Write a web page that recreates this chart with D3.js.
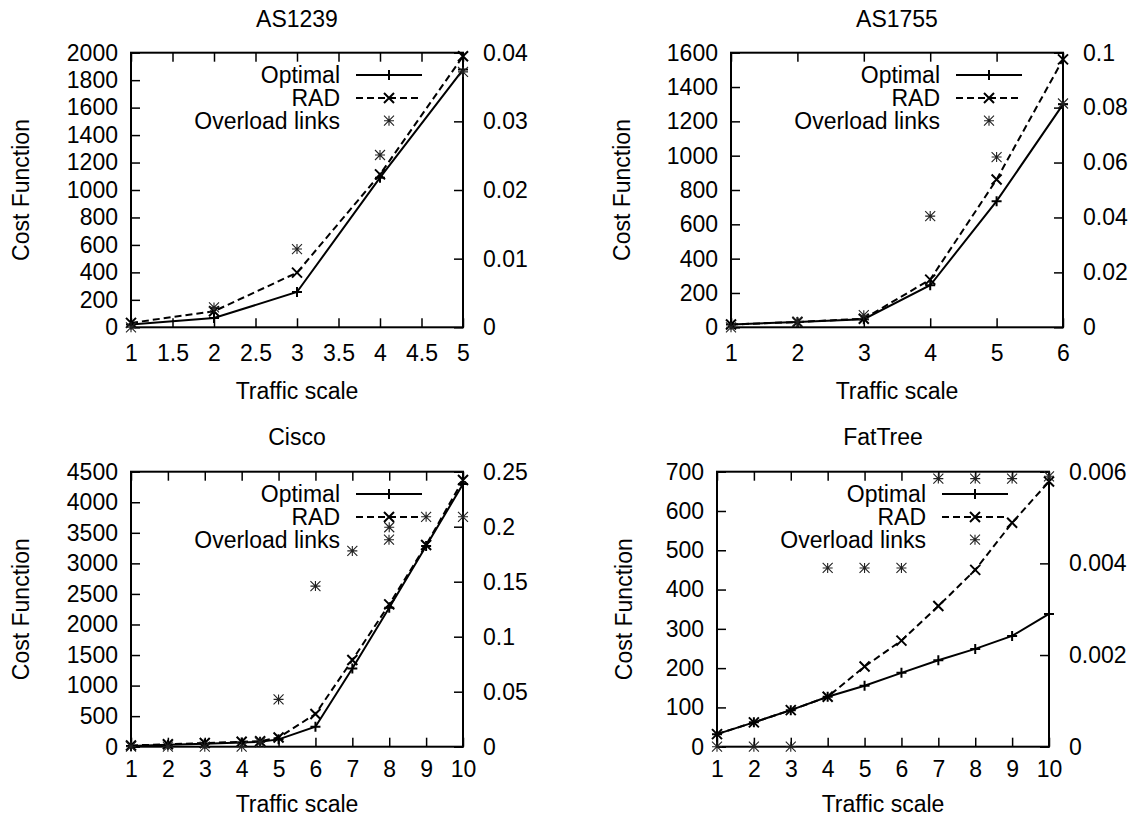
<!DOCTYPE html>
<html><head><meta charset="utf-8">
<script src="https://cdn.jsdelivr.net/npm/d3@7"></script>
<style>
body{margin:0;background:#fff}
text{font-family:"Liberation Sans",Arial,Helvetica,sans-serif;font-size:23px;fill:#000}
</style>
</head><body>
<svg id="c" width="1132" height="818"></svg>
<script>
// ---------- Data ----------
const titles = ["AS1239", "AS1755", "Cisco", "FatTree"];
const legendLabels = ["Optimal", "RAD", "Overload links"];
const xLabel = "Traffic scale";
const yLabel = "Cost Function";

const as1239X = [1, 2, 3, 4, 5];
const as1239Optimal = [20, 68, 257, 1090, 1877];
const as1239RAD = [32, 117, 398, 1114, 1974];
const as1239Overload = [0, 0.0029, 0.0114, 0.0251, 0.0372];
const as1239XTicks = [1, 1.5, 2, 2.5, 3, 3.5, 4, 4.5, 5];
const as1239YTicks = [0, 200, 400, 600, 800, 1000, 1200, 1400, 1600, 1800, 2000];
const as1239Y2Ticks = [0, 0.01, 0.02, 0.03, 0.04];

const as1755X = [1, 2, 3, 4, 5, 6];
const as1755Optimal = [16, 31, 47, 245, 735, 1299];
const as1755RAD = [16, 31, 50, 278, 861, 1561];
const as1755Overload = [0, 0.002, 0.0044, 0.0405, 0.062, 0.0815];
const as1755XTicks = [1, 2, 3, 4, 5, 6];
const as1755YTicks = [0, 200, 400, 600, 800, 1000, 1200, 1400, 1600];
const as1755Y2Ticks = [0, 0.02, 0.04, 0.06, 0.08, 0.1];

const ciscoX = [1, 2, 3, 4, 4.5, 5, 6, 7, 8, 9, 10];
const ciscoOptimal = [10, 30, 50, 70, 80, 120, 327, 1280, 2275, 3284, 4298];
const ciscoRAD = [20, 40, 60, 80, 90, 150, 535, 1418, 2329, 3300, 4364];
const ciscoOverload = [0, 0, 0, 0, 0.004, 0.043, 0.146, 0.178, 0.1995, 0.209, 0.209];
const ciscoXTicks = [1, 2, 3, 4, 5, 6, 7, 8, 9, 10];
const ciscoYTicks = [0, 500, 1000, 1500, 2000, 2500, 3000, 3500, 4000, 4500];
const ciscoY2Ticks = [0, 0.05, 0.1, 0.15, 0.2, 0.25];

const fatTreeX = [1, 2, 3, 4, 5, 6, 7, 8, 9, 10];
const fatTreeOptimal = [32, 62, 93, 127, 155, 188, 220, 249, 282, 338];
const fatTreeRAD = [32, 62, 93, 127, 204, 270, 358, 450, 570, 675];
const fatTreeOverload = [0, 0, 0, 0.0039, 0.0039, 0.0039, 0.00585, 0.00585, 0.00585, 0.0059];
const fatTreeXTicks = [1, 2, 3, 4, 5, 6, 7, 8, 9, 10];
const fatTreeYTicks = [0, 100, 200, 300, 400, 500, 600, 700];
const fatTreeY2Ticks = [0, 0.002, 0.004, 0.006];

// ---------- Layout ----------
const panels = [
  {title: titles[0], x: as1239X, opt: as1239Optimal, rad: as1239RAD, ovl: as1239Overload,
   xt: as1239XTicks, yt: as1239YTicks, y2t: as1239Y2Ticks,
   left: 131, top: 52.7, w: 332, h: 274.6, titleY: 27, xtY: 34, xlY: 399, ylX: 29},
  {title: titles[1], x: as1755X, opt: as1755Optimal, rad: as1755RAD, ovl: as1755Overload,
   xt: as1755XTicks, yt: as1755YTicks, y2t: as1755Y2Ticks,
   left: 731, top: 52.7, w: 332, h: 274.6, titleY: 27, xtY: 34, xlY: 399, ylX: 630},
  {title: titles[2], x: ciscoX, opt: ciscoOptimal, rad: ciscoRAD, ovl: ciscoOverload,
   xt: ciscoXTicks, yt: ciscoYTicks, y2t: ciscoY2Ticks,
   left: 131, top: 471.7, w: 332, h: 275, titleY: 445, xtY: 30.5, xlY: 812, ylX: 29},
  {title: titles[3], x: fatTreeX, opt: fatTreeOptimal, rad: fatTreeRAD, ovl: fatTreeOverload,
   xt: fatTreeXTicks, yt: fatTreeYTicks, y2t: fatTreeY2Ticks,
   left: 717, top: 471.7, w: 332, h: 275, titleY: 445, xtY: 30.5, xlY: 812, ylX: 632}
];

const svg = d3.select("#c");
svg.append("rect").attr("width", 1132).attr("height", 818).attr("fill", "#fff");

const fmt = v => String(+v.toFixed(6));
const M = 5; // marker half size

function plusPath(x, y) { return `M${x-M},${y}H${x+M}M${x},${y-M}V${y+M}`; }
function crossPath(x, y) { return `M${x-M},${y-M}L${x+M},${y+M}M${x-M},${y+M}L${x+M},${y-M}`; }
function starPath(x, y) { return plusPath(x, y) + crossPath(x, y); }

panels.forEach(p => {
  const g = svg.append("g").attr("transform", `translate(${p.left},${p.top})`);
  const xs = d3.scaleLinear().domain(d3.extent(p.xt)).range([0, p.w]);
  const ys = d3.scaleLinear().domain(d3.extent(p.yt)).range([p.h, 0]);
  const y2s = d3.scaleLinear().domain(d3.extent(p.y2t)).range([p.h, 0]);

  // Axes (ticks inward)
  const ax = g.append("g").attr("transform", `translate(0,${p.h})`)
    .call(d3.axisBottom(xs).tickValues(p.xt).tickFormat(fmt).tickSize(-9).tickPadding(0));
  ax.selectAll("text").attr("dy", null).attr("y", p.xtY);
  g.append("g").call(d3.axisTop(xs).tickValues(p.xt).tickFormat("").tickSize(-9));
  g.append("g").call(d3.axisLeft(ys).tickValues(p.yt).tickFormat(fmt).tickSize(-9).tickPadding(13));
  g.append("g").attr("transform", `translate(${p.w},0)`)
    .call(d3.axisRight(y2s).tickValues(p.y2t).tickFormat(fmt).tickSize(-9).tickPadding(20));
  g.selectAll(".domain").remove();
  g.selectAll(".tick line").attr("stroke", "#000").attr("stroke-width", 1.5);
  g.selectAll(".tick text").attr("font-size", null).attr("font-family", null).attr("fill", "#000");
  g.selectAll(".tick text").style("font-size", "23px");

  // Frame
  g.append("rect").attr("width", p.w).attr("height", p.h)
    .attr("fill", "none").attr("stroke", "#000").attr("stroke-width", 2);

  // Title and labels
  svg.append("text").attr("x", p.left + p.w / 2).attr("y", p.titleY)
    .attr("text-anchor", "middle").text(p.title);
  svg.append("text").attr("x", p.left + p.w / 2).attr("y", p.xlY)
    .attr("text-anchor", "middle").text(xLabel);
  svg.append("text").attr("transform", `translate(${p.ylX},${p.top + p.h / 2}) rotate(-90)`)
    .attr("text-anchor", "middle").text(yLabel);

  // Lines
  const idx = d3.range(p.x.length);
  const line = arr => d3.line().x(i => xs(p.x[i])).y(i => ys(arr[i]))(idx);
  g.append("path").attr("d", line(p.opt)).attr("fill", "none")
    .attr("stroke", "#000").attr("stroke-width", 2);
  g.append("path").attr("d", line(p.rad)).attr("fill", "none")
    .attr("stroke", "#000").attr("stroke-width", 2).attr("stroke-dasharray", "7,4");

  // Markers
  g.append("path").attr("d", idx.map(i => plusPath(xs(p.x[i]), ys(p.opt[i]))).join(""))
    .attr("stroke", "#000").attr("stroke-width", 2).attr("fill", "none");
  g.append("path").attr("d", idx.map(i => crossPath(xs(p.x[i]), ys(p.rad[i]))).join(""))
    .attr("stroke", "#000").attr("stroke-width", 2).attr("fill", "none");
  g.append("path").attr("d", idx.map(i => starPath(xs(p.x[i]), y2s(p.ovl[i]))).join(""))
    .attr("stroke", "#222").attr("stroke-width", 1.1).attr("fill", "none");

  // Legend
  const lg = g.append("g");
  const rows = [22.3, 45.3, 68];
  const tx = p.w - 123, l0 = p.w - 107, l1 = p.w - 41, mx = p.w - 74;
  rows.forEach((ry, k) => {
    lg.append("text").attr("x", tx).attr("y", ry).attr("dy", "0.35em")
      .attr("text-anchor", "end").text(legendLabels[k]);
  });
  lg.append("line").attr("x1", l0).attr("x2", l1).attr("y1", rows[0]).attr("y2", rows[0])
    .attr("stroke", "#000").attr("stroke-width", 2);
  lg.append("path").attr("d", plusPath(mx, rows[0])).attr("stroke", "#000").attr("stroke-width", 2);
  lg.append("line").attr("x1", l0).attr("x2", l1).attr("y1", rows[1]).attr("y2", rows[1])
    .attr("stroke", "#000").attr("stroke-width", 2).attr("stroke-dasharray", "7,4");
  lg.append("path").attr("d", crossPath(mx, rows[1])).attr("stroke", "#000").attr("stroke-width", 2);
  lg.append("path").attr("d", starPath(mx, rows[2])).attr("stroke", "#222").attr("stroke-width", 1.1);
});
</script>
</body></html>
